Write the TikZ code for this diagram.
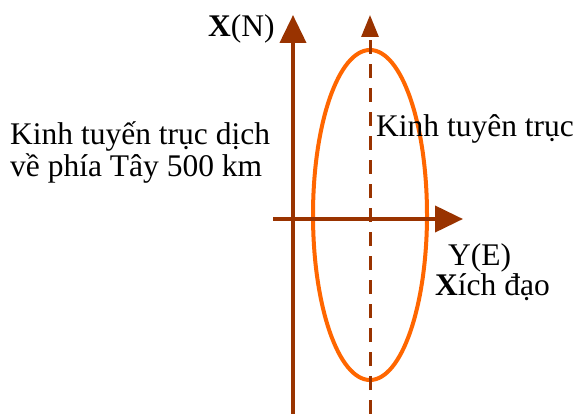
\documentclass[tikz,border=0pt]{standalone}
\usepackage{fontspec}
\setmainfont{Liberation Serif}
\usetikzlibrary{arrows.meta}
\definecolor{axisbrown}{HTML}{993300}
\definecolor{ellorange}{HTML}{FF6600}
\begin{document}
\begin{tikzpicture}[x=1pt,y=-1pt,
  axisline/.style={draw=axisbrown,line width=4pt,-{Triangle[length=28pt,width=26pt]}},
  meridian/.style={draw=axisbrown,line width=3pt,dash pattern=on 14pt off 10pt,-{Triangle[length=22pt,width=17pt]}},
  lbl/.style={anchor=base west,inner sep=0pt,font=\fontsize{31.5}{31.5}\selectfont}]
\useasboundingbox (0,0) rectangle (575,414);
\fill[white] (0,0) rectangle (575,414);
\coordinate (xbot) at (293,414);
\coordinate (xtop) at (293,15);
\coordinate (mbot) at (370,414);
\coordinate (mtop) at (370,15);
\coordinate (yl) at (273,219);
\coordinate (yr) at (463,219);
\coordinate (c) at (370,215);
\draw[ellorange,line width=4pt] (c) ellipse [x radius=57, y radius=165];
\draw[meridian] (mbot) -- (mtop);
\draw[axisline] (xbot) -- (xtop);
\draw[axisline] (yl) -- (yr);
\node[lbl] (xn) at (208,37) {\textbf{X}(N)};
\node[lbl] (shift1) at (10,145) {Kinh tuyến trục dịch};
\node[lbl] (shift2) at (10,176) {về phía Tây 500 km};
\node[lbl] (merid) at (376,137) {Kinh tuyên trục};
\node[lbl] (ye) at (448,265) {Y(E)};
\node[lbl] (eq) at (435,295) {\textbf{X}ích đạo};
\end{tikzpicture}
\end{document}
